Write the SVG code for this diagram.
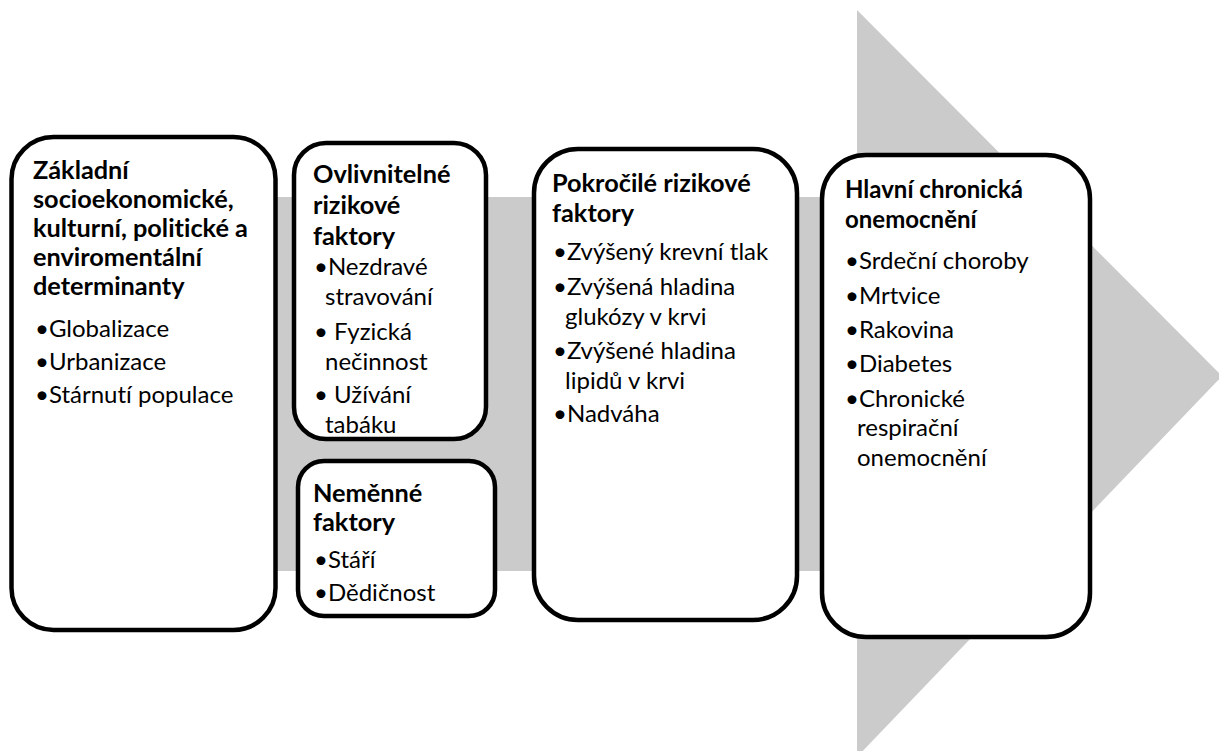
<svg xmlns="http://www.w3.org/2000/svg" width="1219" height="751" viewBox="0 0 1219 751">
<style>
.box{fill:#ffffff;stroke:#000000;stroke-width:4.5}
.t{font-family:Lato,"Liberation Sans",sans-serif;font-weight:bold;font-size:25.3px;fill:#000;font-variant-ligatures:none}
.b{font-family:Lato,"Liberation Sans",sans-serif;font-size:24px;fill:#000;font-variant-ligatures:none}
</style>
<g id="arrow">
<rect x="150" y="197" width="710" height="374" fill="#cbcbcb"/>
<polygon points="857,10 1222,376 857,757" fill="#cbcbcb"/>
</g>
<g id="connectors"></g>
<g id="n1">
<rect class="box" x="11.5" y="137" width="264" height="493" rx="42"/>
<text class="t" x="33" y="179">Základní</text>
<text class="t" x="33" y="208">socioekonomické,</text>
<text class="t" x="33" y="237">kulturní, politické a</text>
<text class="t" x="33" y="266">enviromentální</text>
<text class="t" x="33" y="295">determinanty</text>
<text class="b" x="35" y="337">•Globalizace</text>
<text class="b" x="35" y="370">•Urbanizace</text>
<text class="b" x="35" y="403">•Stárnutí populace</text>
</g>
<g id="n2">
<rect class="box" x="294" y="143" width="192" height="296" rx="32"/>
<text class="t" x="313" y="183">Ovlivnitelné</text>
<text class="t" x="313" y="214">rizikové</text>
<text class="t" x="313" y="245">faktory</text>
<text class="b" x="314" y="275">•Nezdravé</text>
<text class="b" x="325" y="305">stravování</text>
<text class="b" x="314" y="340">• Fyzická</text>
<text class="b" x="325" y="370">nečinnost</text>
<text class="b" x="314" y="403">• Užívání</text>
<text class="b" x="325" y="433">tabáku</text>
</g>
<g id="n3">
<rect class="box" x="298" y="461" width="197" height="155" rx="26"/>
<text class="t" x="313" y="502">Neměnné</text>
<text class="t" x="313" y="531">faktory</text>
<text class="b" x="314" y="568">•Stáří</text>
<text class="b" x="314" y="601">•Dědičnost</text>
</g>
<g id="n4">
<rect class="box" x="534" y="149" width="263" height="471" rx="44"/>
<text class="t" x="552" y="192">Pokročilé rizikové</text>
<text class="t" x="552" y="222">faktory</text>
<text class="b" x="553" y="260">•Zvýšený krevní tlak</text>
<text class="b" x="553" y="295">•Zvýšená hladina</text>
<text class="b" x="565" y="325">glukózy v krvi</text>
<text class="b" x="553" y="359">•Zvýšené hladina</text>
<text class="b" x="565" y="389">lipidů v krvi</text>
<text class="b" x="553" y="422">•Nadváha</text>
</g>
<g id="n5">
<rect class="box" x="822" y="155" width="268" height="482" rx="44"/>
<text class="t" x="845" y="198" style="font-size:24px">Hlavní chronická</text>
<text class="t" x="845" y="228" style="font-size:24px">onemocnění</text>
<text class="b" x="845" y="269">•Srdeční choroby</text>
<text class="b" x="845" y="304">•Mrtvice</text>
<text class="b" x="845" y="338">•Rakovina</text>
<text class="b" x="845" y="372">•Diabetes</text>
<text class="b" x="845" y="407">•Chronické</text>
<text class="b" x="857" y="436">respirační</text>
<text class="b" x="857" y="466">onemocnění</text>
</g>
</svg>
